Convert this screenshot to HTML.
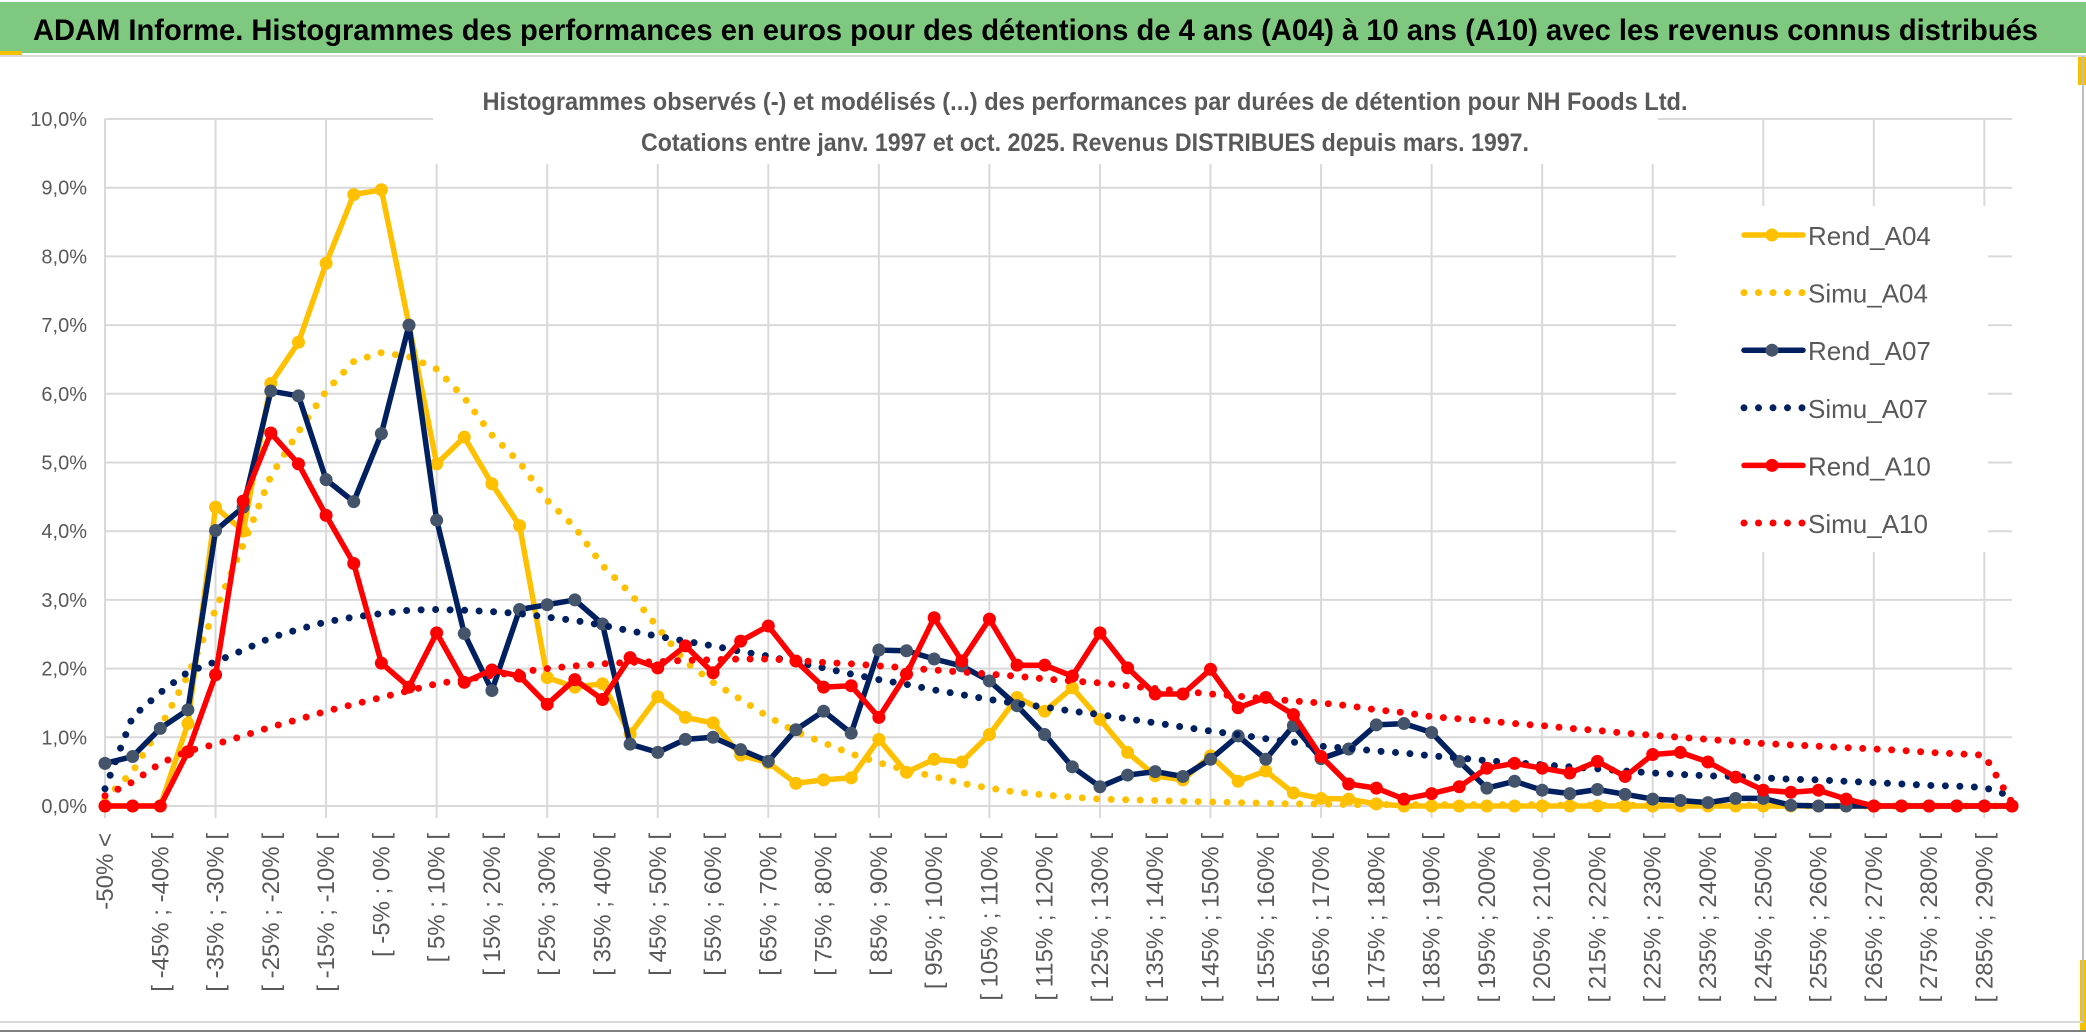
<!DOCTYPE html>
<html><head><meta charset="utf-8">
<style>
html,body{margin:0;padding:0;background:#fff;}
svg{display:block;font-family:"Liberation Sans",sans-serif;}
</style></head>
<body>
<svg id="chart" width="2086" height="1033" viewBox="0 0 2086 1033" xmlns="http://www.w3.org/2000/svg">
<rect x="0" y="0" width="2086" height="1033" fill="#ffffff"/>
<rect x="0" y="2" width="2086" height="51" fill="#7ec97f"/>
<rect x="0" y="51" width="22" height="4" fill="#f5c000"/>
<rect x="2078" y="55" width="8" height="30" fill="#f5c000"/>
<rect x="2080" y="960" width="6" height="70" fill="#f5c000"/>
<line x1="0" y1="56" x2="2086" y2="56" stroke="#d9d9d9" stroke-width="2"/>
<line x1="0" y1="1022" x2="2083" y2="1022" stroke="#d9d9d9" stroke-width="2"/>
<line x1="0" y1="1031" x2="2086" y2="1031" stroke="#7f7f7f" stroke-width="2"/>
<line x1="2083" y1="56" x2="2083" y2="1022" stroke="#bfbfbf" stroke-width="2"/>
<text x="33" y="40" font-size="30" font-weight="bold" fill="#000" textLength="2005" lengthAdjust="spacingAndGlyphs">ADAM Informe. Histogrammes des performances en euros pour des détentions de 4 ans (A04) à 10 ans (A10) avec les revenus connus distribués</text>
<g id="grid"></g>
<g id="yaxis"></g>
<g id="xaxis"></g>
<rect x="433" y="78" width="1225" height="86" fill="#fff"/>
<text x="1085" y="110" font-size="25" font-weight="bold" fill="#595959" text-anchor="middle" textLength="1205" lengthAdjust="spacingAndGlyphs">Histogrammes observés (-) et modélisés (...) des performances par durées de détention pour NH Foods Ltd.</text>
<text x="1085" y="151" font-size="25" font-weight="bold" fill="#595959" text-anchor="middle" textLength="888" lengthAdjust="spacingAndGlyphs">Cotations entre janv. 1997 et oct. 2025. Revenus DISTRIBUES depuis mars. 1997.</text>
<g id="series"></g>
<g id="legend"></g>
</svg>
<script>
const yTicks = [0,1,2,3,4,5,6,7,8,9,10];
const yTickLabels = ["0,0%","1,0%","2,0%","3,0%","4,0%","5,0%","6,0%","7,0%","8,0%","9,0%","10,0%"];
const rendA04 = [0,0,0,1.2,4.35,4.0,6.15,6.75,7.9,8.9,8.97,7.0,4.98,5.37,4.69,4.08,1.87,1.73,1.78,1.05,1.59,1.29,1.21,0.74,0.63,0.33,0.38,0.41,0.97,0.49,0.68,0.64,1.04,1.58,1.38,1.72,1.26,0.78,0.44,0.38,0.73,0.36,0.51,0.19,0.11,0.1,0.03,0,0,0,0,0,0,0,0,0,0,0,0,0,0,0,0,0,0,0,0,0,0,0];
const simuA04 = [0.1,0.5,1.15,1.9,2.86,3.8,4.8,5.45,6.04,6.47,6.6,6.54,6.36,5.94,5.4,5.0,4.45,4.06,3.5,3.1,2.6,2.1,1.8,1.55,1.3,1.08,0.92,0.76,0.63,0.52,0.43,0.33,0.26,0.2,0.16,0.13,0.1,0.09,0.08,0.07,0.06,0.05,0.04,0.03,0.03,0.02,0.02,0.02,0.02,0.02,0.02,0.02,0.02,0.01,0.01,0.01,0.01,0.01,0.01,0.01,0.01,0,0,0,0,0,0,0,0,0];
const rendA07 = [0.62,0.72,1.13,1.4,4.01,4.35,6.04,5.97,4.75,4.43,5.42,7.0,4.16,2.51,1.68,2.86,2.93,3.0,2.65,0.9,0.78,0.97,1.0,0.82,0.65,1.11,1.38,1.06,2.27,2.26,2.14,2.04,1.82,1.46,1.04,0.57,0.28,0.45,0.5,0.43,0.68,1.02,0.68,1.17,0.69,0.83,1.18,1.2,1.07,0.65,0.26,0.36,0.23,0.18,0.24,0.17,0.1,0.08,0.05,0.11,0.11,0.01,0,0,0,0,0,0,0,0];
const simuA07 = [0.25,1.3,1.65,1.95,2.1,2.27,2.45,2.57,2.68,2.75,2.8,2.85,2.86,2.85,2.83,2.8,2.75,2.7,2.63,2.55,2.47,2.4,2.33,2.25,2.18,2.09,2.01,1.92,1.84,1.77,1.69,1.62,1.55,1.49,1.44,1.38,1.33,1.27,1.21,1.15,1.09,1.04,0.98,0.93,0.87,0.84,0.8,0.77,0.73,0.7,0.66,0.63,0.6,0.57,0.54,0.51,0.48,0.46,0.44,0.43,0.41,0.39,0.38,0.36,0.34,0.32,0.3,0.29,0.27,0.14];
const rendA10 = [0,0,0,0.79,1.91,4.44,5.43,4.98,4.23,3.53,2.08,1.73,2.52,1.8,1.98,1.89,1.48,1.84,1.55,2.16,2.01,2.33,1.94,2.4,2.62,2.11,1.73,1.75,1.29,1.92,2.74,2.11,2.72,2.05,2.05,1.89,2.52,2.01,1.63,1.63,1.99,1.43,1.58,1.33,0.72,0.32,0.26,0.1,0.18,0.28,0.55,0.62,0.55,0.48,0.65,0.43,0.75,0.78,0.64,0.42,0.23,0.2,0.23,0.1,0,0,0,0,0,0];
const simuA10 = [0.15,0.35,0.62,0.8,0.9,1.02,1.15,1.26,1.38,1.48,1.58,1.68,1.78,1.84,1.9,1.95,2.0,2.04,2.07,2.09,2.1,2.12,2.13,2.14,2.14,2.12,2.09,2.07,2.04,2.01,1.98,1.95,1.92,1.89,1.85,1.82,1.79,1.75,1.71,1.67,1.63,1.6,1.56,1.53,1.5,1.46,1.4,1.36,1.3,1.27,1.24,1.2,1.17,1.13,1.1,1.06,1.03,1.0,0.97,0.94,0.91,0.89,0.87,0.85,0.83,0.81,0.78,0.76,0.74,0.05];
const categories = ["-50% <"];
for (let k = 1; k < 70; k++) { const a = -55 + 5*k; categories.push(k === 69 ? "> 290%" : "[ " + a + "% ; " + (a+5) + "% ["); }

const NS = "http://www.w3.org/2000/svg";
const X0 = 105, X1 = 2012, Y0 = 806, Y10 = 119;
const N = categories.length;
function xPos(i){ return X0 + (X1 - X0) * i / (N - 1); }
function yPos(v){ return Y0 + (Y10 - Y0) * v / 10; }
function mk(tag, attrs, parent){ const e = document.createElementNS(NS, tag); for (const k in attrs) e.setAttribute(k, attrs[k]); parent.appendChild(e); return e; }

const grid = document.getElementById('grid');
yTicks.forEach((t, j) => {
  const l = mk('line', {x1: X0, x2: X1, y1: yPos(t), y2: yPos(t), stroke: '#d9d9d9', 'stroke-width': 2}, grid);
  
  
});
for (let i = 0; i < N; i += 4) {
  const l = mk('line', {x1: xPos(i), x2: xPos(i), y1: Y10, y2: Y0 + 12, stroke: '#d9d9d9', 'stroke-width': 2}, grid);
  
  
}
const yax = document.getElementById('yaxis');
yTicks.forEach((t, j) => {
  const tx = mk('text', {x: 87, y: yPos(t) + 7, 'font-size': 20, fill: '#595959', 'text-anchor': 'end'}, yax);
  tx.textContent = yTickLabels[j];
  
  
});
const xax = document.getElementById('xaxis');
for (let i = 0; i < N; i += 2) {
  const x = xPos(i) + 8;
  const tx = mk('text', {x: x, y: 833, 'font-size': 24, fill: '#595959', 'text-anchor': 'end', transform: 'rotate(-90 ' + x + ' 833)'}, xax);
  tx.textContent = categories[i];
  
  
}

const sg = document.getElementById('series');
function drawSolid(data, color, markerColor, name){
  const g = mk('g', {}, sg);
  
  
  const pts = data.map((v, i) => xPos(i).toFixed(1) + ',' + yPos(v).toFixed(1)).join(' ');
  const pl = mk('polyline', {points: pts, fill: 'none', stroke: color, 'stroke-width': 5.5, 'stroke-linejoin': 'round', 'stroke-linecap': 'round'}, g);
  
  
  data.forEach((v, i) => {
    const c = mk('circle', {cx: xPos(i), cy: yPos(v), r: 6.5, fill: markerColor}, g);
    
    
  });
}
function drawDotted(data, color, name){
  const pts = data.map((v, i) => xPos(i).toFixed(1) + ',' + yPos(v).toFixed(1)).join(' ');
  const pl = mk('polyline', {points: pts, fill: 'none', stroke: color, 'stroke-width': 7, 'stroke-dasharray': '0 14.5', 'stroke-linecap': 'round', 'stroke-linejoin': 'round'}, sg);
  
  
}
drawSolid(rendA04, '#ffc000', '#ffc000', 'rend-a04');
drawDotted(simuA04, '#ffc000', 'simu-a04');
drawSolid(rendA07, '#002060', '#44546a', 'rend-a07');
drawDotted(simuA07, '#002060', 'simu-a07');
drawSolid(rendA10, '#ff0000', '#ff0000', 'rend-a10');
drawDotted(simuA10, '#ff0000', 'simu-a10');

const lg = document.getElementById('legend');
const lbg = mk('rect', {x: 1676, y: 206, width: 312, height: 346, fill: '#fff'}, lg);


const legNames = ['Rend_A04','Simu_A04','Rend_A07','Simu_A07','Rend_A10','Simu_A10'];
const legColors = ['#ffc000','#ffc000','#002060','#002060','#ff0000','#ff0000'];
const legMarker = ['#ffc000',null,'#44546a',null,'#ff0000',null];
legNames.forEach((n, k) => {
  const y = 235 + k * 57.6;
  const g = mk('g', {}, lg);
  
  
  if (legMarker[k]) {
    mk('line', {x1: 1744, x2: 1803, y1: y, y2: y, stroke: legColors[k], 'stroke-width': 5.5, 'stroke-linecap': 'round'}, g);
    mk('circle', {cx: 1772, cy: y, r: 6.5, fill: legMarker[k]}, g);
  } else {
    mk('line', {x1: 1744, x2: 1803, y1: y, y2: y, stroke: legColors[k], 'stroke-width': 7, 'stroke-dasharray': '0 14.5', 'stroke-linecap': 'round'}, g);
  }
  const t = mk('text', {x: 1808, y: y + 10, 'font-size': 26, fill: '#595959'}, g);
  t.textContent = n;
});
</script>
</body></html>
